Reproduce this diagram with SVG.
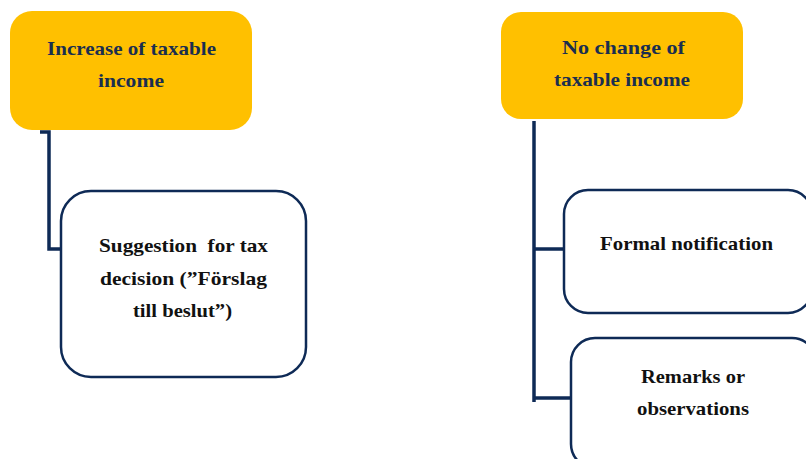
<svg xmlns="http://www.w3.org/2000/svg" width="806" height="459" viewBox="0 0 806 459">
<style>
.head{fill:#ffc000}
.box{fill:#ffffff;stroke:#0e2a56;stroke-width:2.5}
.conn{fill:none;stroke:#0e2a56;stroke-width:3.5}
.ht{font-family:"Liberation Serif",serif;font-weight:bold;font-size:19px;fill:#1a2e4f;text-anchor:middle}
.bt{font-family:"Liberation Serif",serif;font-weight:bold;font-size:19px;fill:#111111;text-anchor:middle;white-space:pre}
</style>
<rect width="806" height="459" fill="#ffffff"/>
<g id="connectors">
<polyline class="conn" points="40,132 49,132 49,249 61,249"/>
<polyline class="conn" points="534,121 534,402"/>
<line class="conn" x1="534" y1="249" x2="564" y2="249"/>
<line class="conn" x1="534" y1="398" x2="571" y2="398"/>
</g>
<g id="n1">
<rect class="head" x="10" y="11" width="242" height="119" rx="22"/>
<text class="ht" x="131.5" y="55" textLength="169" lengthAdjust="spacingAndGlyphs">Increase of taxable</text>
<text class="ht" x="131" y="87" textLength="66" lengthAdjust="spacingAndGlyphs">income</text>
</g>
<g id="n2">
<rect class="box" x="61" y="191" width="245" height="186" rx="30"/>
<text class="bt" x="183.5" y="252" textLength="169" lengthAdjust="spacingAndGlyphs" xml:space="preserve">Suggestion  for tax</text>
<text class="bt" x="183.5" y="285" textLength="167" lengthAdjust="spacingAndGlyphs">decision (”Förslag</text>
<text class="bt" x="182.5" y="317" textLength="99" lengthAdjust="spacingAndGlyphs">till beslut”)</text>
</g>
<g id="n3">
<rect class="head" x="501" y="12" width="242" height="107" rx="20"/>
<text class="ht" x="623.5" y="54" textLength="123" lengthAdjust="spacingAndGlyphs">No change of</text>
<text class="ht" x="622" y="86" textLength="136" lengthAdjust="spacingAndGlyphs">taxable income</text>
</g>
<g id="n4">
<rect class="box" x="564" y="190" width="248" height="123" rx="24"/>
<text class="bt" x="686.5" y="250" textLength="173" lengthAdjust="spacingAndGlyphs">Formal notification</text>
</g>
<g id="n5">
<rect class="box" x="571" y="338" width="245" height="130" rx="24"/>
<text class="bt" x="693" y="383" textLength="104" lengthAdjust="spacingAndGlyphs">Remarks or</text>
<text class="bt" x="693" y="415" textLength="112" lengthAdjust="spacingAndGlyphs">observations</text>
</g>
</svg>
